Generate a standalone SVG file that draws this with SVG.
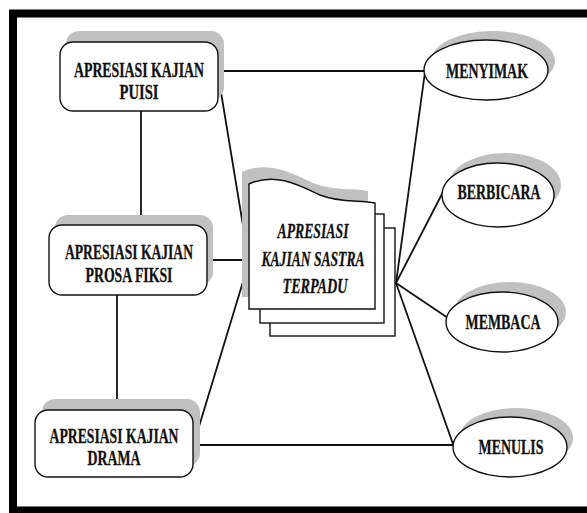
<svg xmlns="http://www.w3.org/2000/svg" width="587" height="513" viewBox="0 0 587 513">
<style>
.sh{fill:#c0c0c0;stroke:none}
.bx{fill:#fff;stroke:#111;stroke-width:1.4}
.cn{stroke:#111;stroke-width:1.8;fill:none}
.t{font-family:"Liberation Serif","Times New Roman",serif;font-weight:bold;font-size:20px;fill:#111;stroke:#111;stroke-width:0.3;text-anchor:middle}
.it{font-style:italic}
</style>
<rect x="0" y="0" width="587" height="513" fill="#fff"/>
<path d="M587,13.5 H13 V510.5 H587" fill="none" stroke="#000" stroke-width="8"/>
<g id="connectors">
<line class="cn" x1="218" y1="71" x2="425" y2="71"/>
<line class="cn" x1="218" y1="74" x2="249" y2="262"/>
<line class="cn" x1="141" y1="111" x2="141" y2="225"/>
<line class="cn" x1="207" y1="260" x2="249" y2="260"/>
<line class="cn" x1="117" y1="295" x2="117" y2="410"/>
<line class="cn" x1="194" y1="443" x2="249" y2="262"/>
<line class="cn" x1="193" y1="445" x2="453" y2="445"/>
<line class="cn" x1="396" y1="283" x2="425" y2="72"/>
<line class="cn" x1="396" y1="283" x2="443" y2="192"/>
<line class="cn" x1="396" y1="283" x2="448" y2="318"/>
<line class="cn" x1="396" y1="283" x2="453" y2="444"/>
</g>
<g id="puisi">
<rect class="sh" x="66" y="31" width="158" height="69" rx="13"/>
<rect class="bx" x="60" y="42" width="158" height="69" rx="13"/>
<text class="t" x="139" y="77" textLength="130" lengthAdjust="spacingAndGlyphs">APRESIASI KAJIAN</text>
<text class="t" x="139" y="99" textLength="39" lengthAdjust="spacingAndGlyphs">PUISI</text>
</g>
<g id="prosa">
<rect class="sh" x="55" y="215" width="158" height="70" rx="13"/>
<rect class="bx" x="49" y="225" width="158" height="70" rx="13"/>
<text class="t" x="129" y="259" textLength="128" lengthAdjust="spacingAndGlyphs">APRESIASI KAJIAN</text>
<text class="t" x="129" y="282" textLength="87" lengthAdjust="spacingAndGlyphs">PROSA FIKSI</text>
</g>
<g id="drama">
<rect class="sh" x="42" y="399" width="158" height="67" rx="13"/>
<rect class="bx" x="35" y="410" width="158" height="67" rx="13"/>
<text class="t" x="114" y="443" textLength="129" lengthAdjust="spacingAndGlyphs">APRESIASI KAJIAN</text>
<text class="t" x="114" y="465" textLength="53" lengthAdjust="spacingAndGlyphs">DRAMA</text>
</g>
<g id="sastra">
<rect class="bx" x="270" y="228" width="125" height="108"/>
<rect class="bx" x="260" y="214" width="124" height="109"/>
<path class="sh" d="M242,172 C268,160 292,173 313,183 C333,191 353,188 368,191 L368,297 L242,297 Z"/>
<path class="bx" d="M249,184 C275,172 299,185 320,195 C340,203 360,200 375,203 L375,309 L249,309 Z"/>
<text class="t it" x="313" y="238" textLength="71" lengthAdjust="spacingAndGlyphs">APRESIASI</text>
<text class="t it" x="313" y="266" textLength="103" lengthAdjust="spacingAndGlyphs">KAJIAN SASTRA</text>
<text class="t it" x="315" y="293" textLength="65" lengthAdjust="spacingAndGlyphs">TERPADU</text>
</g>
<g id="menyimak">
<ellipse class="sh" cx="493" cy="61" rx="62" ry="30"/>
<ellipse class="bx" cx="486" cy="70" rx="62" ry="30"/>
<text class="t" x="487" y="78" textLength="82" lengthAdjust="spacingAndGlyphs">MENYIMAK</text>
</g>
<g id="berbicara">
<ellipse class="sh" cx="505" cy="185" rx="56" ry="32"/>
<ellipse class="bx" cx="498" cy="195" rx="56" ry="32"/>
<text class="t" x="499" y="199" textLength="83" lengthAdjust="spacingAndGlyphs">BERBICARA</text>
</g>
<g id="membaca">
<ellipse class="sh" cx="510" cy="312" rx="56" ry="30"/>
<ellipse class="bx" cx="502" cy="322" rx="56" ry="30"/>
<text class="t" x="503" y="329" textLength="75" lengthAdjust="spacingAndGlyphs">MEMBACA</text>
</g>
<g id="menulis">
<ellipse class="sh" cx="516" cy="438" rx="57" ry="30"/>
<ellipse class="bx" cx="510" cy="447" rx="57" ry="30"/>
<text class="t" x="511" y="454" textLength="65" lengthAdjust="spacingAndGlyphs">MENULIS</text>
</g>
</svg>
